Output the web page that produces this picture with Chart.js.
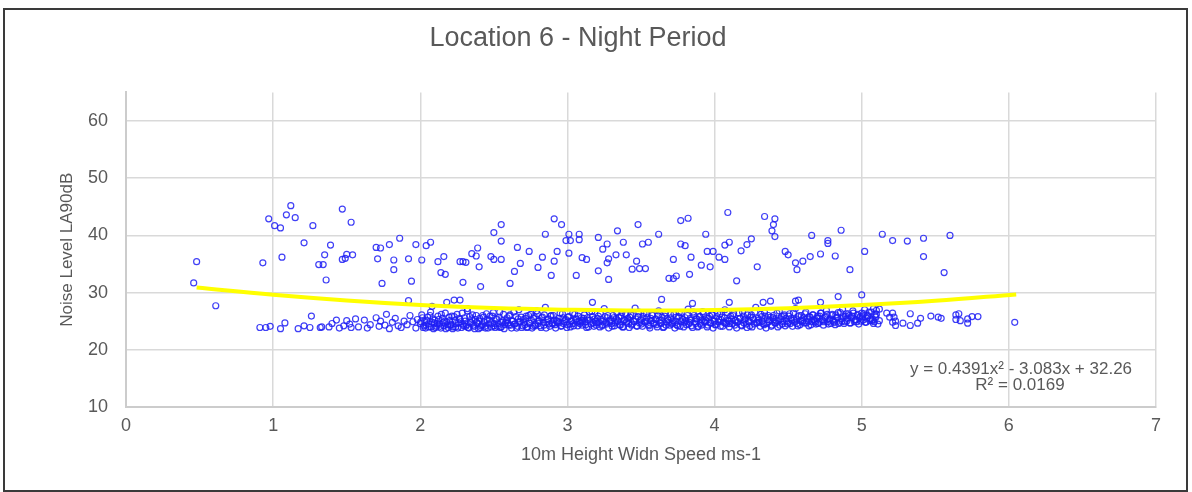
<!DOCTYPE html>
<html>
<head>
<meta charset="utf-8">
<script src="https://cdn.jsdelivr.net/npm/chart.js@4"></script>
<style>
  html, body { margin:0; padding:0; background:#fff; }
  #wrap { position:relative; width:1192px; height:492px; }
  #frame { position:absolute; left:3px; top:8px; width:1181px; height:480px; border:2px solid #3a3a3a; pointer-events:none; }
  canvas { position:absolute; left:0; top:0; }
</style>
</head>
<body>
<div id="wrap">
  <canvas id="chart" width="1192" height="492"></canvas>
  <div id="frame"></div>
</div>
<script>
// tick values
const xTicks = [0,1,2,3,4,5,6,7];
const yTicks = [10,20,30,40,50,60];

// scattered high readings [wind speed, LA90]
const upperPoints = [
  [0.48,35.4],[0.46,31.7],[0.61,27.7],[0.93,35.2],[0.97,42.9],[1.01,41.7],[1.05,41.3],[1.06,36.2],
  [1.09,43.6],[1.12,45.2],[1.15,43.1],[1.21,38.7],[1.27,41.7],[1.31,34.9],[1.34,34.9],[1.35,36.6],
  [1.36,32.2],[1.39,38.3],[1.47,44.6],[1.47,35.8],[1.49,36.0],[1.50,36.7],[1.53,42.3],[1.54,36.6],
  [1.70,37.9],[1.71,35.9],[1.73,37.8],[1.74,31.6],[1.79,38.4],[1.82,34.0],[1.82,35.7],[1.86,39.5],
  [1.92,35.9],[1.92,28.6],[1.94,32.0],[1.97,38.4],[2.01,35.7],[2.04,38.2],[2.07,38.8],[2.08,27.6],
  [2.12,35.4],[2.14,33.5],[2.16,36.3],[2.17,33.2],[2.18,28.3],[2.23,28.7],[2.27,28.7],[2.27,35.4],
  [2.29,35.4],[2.29,31.8],[2.31,35.3],[2.32,27.2],[2.35,36.8],[2.38,36.4],[2.39,37.8],[2.40,34.5],
  [2.41,31.05],[2.48,36.3],[2.50,40.5],[2.50,35.8],[2.55,41.9],[2.55,39.0],[2.55,35.8],[2.61,31.6],
  [2.64,33.7],[2.66,37.9],[2.68,35.1],[2.74,37.2],[2.80,34.4],[2.83,36.2],[2.85,40.2],[2.89,33.0],
  [2.91,42.9],[2.91,35.5],[2.93,37.2],[2.96,41.9],[2.99,39.1],[3.01,36.9],[3.01,40.2],[3.02,39.1],
  [3.06,33.0],[3.08,40.2],[3.08,39.25],[3.10,36.1],[3.13,35.8],[3.17,28.3],[3.21,39.65],[3.21,33.8],
  [3.24,37.6],[3.27,35.2],[3.27,38.5],[3.28,35.9],[3.28,32.3],[3.33,36.6],[3.34,40.8],[3.38,38.8],
  [3.40,36.6],[3.44,34.1],[3.47,35.5],[3.48,41.9],[3.49,34.2],[3.51,38.5],[3.53,34.2],[3.55,38.8],
  [3.62,40.2],[3.64,28.8],[3.69,32.5],[3.72,35.8],[3.72,32.45],[3.74,32.9],[3.77,42.6],[3.77,38.5],
  [3.80,38.2],[3.82,43.0],[3.83,33.2],[3.84,36.2],[3.85,28.1],[3.91,34.8],[3.94,40.2],[3.95,37.2],
  [3.97,34.5],[3.99,37.2],[4.03,36.2],[4.07,35.8],[4.07,38.3],[4.09,44.0],[4.10,38.8],[4.10,28.3],
  [4.15,32.05],[4.18,37.3],[4.22,38.4],[4.25,39.4],[4.29,34.5],[4.33,28.3],[4.34,43.3],[4.38,28.5],
  [4.39,40.8],[4.40,41.9],[4.41,39.8],[4.41,42.9],[4.48,37.2],[4.50,36.6],[4.55,28.5],[4.55,35.2],
  [4.56,34.0],[4.57,28.7],[4.60,35.5],[4.65,36.3],[4.66,40.0],[4.72,36.75],[4.72,28.3],[4.77,38.6],
  [4.77,39.1],[4.82,36.4],[4.84,29.3],[4.86,40.9],[4.92,34.0],[5.00,29.6],[5.02,37.2],[5.14,40.2],
  [5.21,39.1],[5.31,39.0],[5.42,39.5],[5.42,36.3],[5.56,33.5],[5.60,40.0]
];

// low readings, sparse left part
const lowLeftPoints = [
  [0.91,23.9],[0.95,23.9],[0.98,24.1],[1.05,23.7],[1.08,24.7],[1.17,23.7],[1.21,24.2],[1.25,23.9],
  [1.26,25.9],[1.32,23.9],[1.33,24.0],[1.38,24.0],[1.40,24.6],[1.43,25.2],[1.45,23.8],[1.48,24.2],
  [1.50,25.1],[1.52,24.5],[1.53,23.9],[1.56,25.4],[1.58,24.0],[1.62,25.2],[1.64,23.8],[1.66,24.4],
  [1.70,25.6],[1.72,24.1],[1.73,25.0],[1.76,24.3],[1.77,26.2],[1.79,23.7],[1.81,24.8],[1.83,25.5],
  [1.85,24.2],[1.87,23.9],[1.89,25.0],[1.91,24.4],[1.93,26.0],[1.95,24.9]
];

// low readings, dense band (first pass)
const bandPoints = [
  [1.97,23.8],[1.98,25.3],[2.00,24.6],[2.01,26.1],[2.02,23.9],[2.03,25.0],[2.04,24.3],[2.05,25.7],[2.06,24.0],[2.07,26.6],[2.08,24.8],[2.09,23.7],
  [2.10,25.2],[2.11,24.1],[2.12,25.9],[2.13,24.5],[2.14,23.8],[2.15,25.5],[2.16,24.2],[2.17,26.4],[2.18,24.9],[2.19,23.9],
  [2.20,25.1],[2.21,24.4],[2.22,23.7],[2.23,25.8],[2.24,24.0],[2.25,26.2],[2.26,24.7],[2.27,25.3],[2.28,23.9],[2.29,24.5],
  [2.30,25.6],[2.31,24.1],[2.32,26.8],[2.33,23.8],[2.34,24.9],[2.35,25.4],[2.36,24.3],[2.37,23.7],[2.38,26.0],[2.39,24.6],
  [2.40,25.0],[2.41,23.9],[2.42,24.4],[2.43,25.7],[2.44,24.1],[2.45,26.3],[2.46,23.8],[2.47,25.2],[2.48,24.7],[2.49,25.9],
  [2.50,24.2],[2.51,23.9],[2.52,25.4],[2.53,24.6],[2.54,26.6],[2.55,24.0],[2.56,25.1],[2.57,23.7],[2.58,24.8],[2.59,25.6],
  [2.60,24.3],[2.61,26.1],[2.62,23.8],[2.63,25.0],[2.64,24.5],[2.65,25.8],[2.66,24.1],[2.67,27.0],[2.68,24.9],[2.69,23.9],
  [2.70,25.3],[2.71,24.4],[2.72,25.9],[2.73,24.0],[2.74,24.7],[2.75,26.2],[2.76,23.8],[2.77,25.5],[2.78,24.2],[2.79,26.8],
  [2.80,24.6],[2.81,25.1],[2.82,23.9],[2.83,25.7],[2.84,24.3],[2.85,27.4],[2.86,24.8],[2.87,25.4],[2.88,24.1],[2.89,26.0],
  [2.90,24.5],[2.91,25.2],[2.92,23.8],[2.93,25.0],[2.94,24.7],[2.95,26.4],[2.96,24.2],[2.97,25.6],[2.98,24.9],[2.99,25.3],
  [3.00,24.4],[3.01,25.8],[3.02,24.0],[3.03,25.1],[3.04,24.6],[3.05,26.2],[3.06,25.4],[3.07,24.2],[3.08,25.0],[3.09,24.8],[3.095,25.6],
  [3.10,24.3],[3.11,25.5],[3.12,24.9],[3.13,23.9],[3.14,25.2],[3.15,26.6],[3.16,24.5],[3.17,25.8],[3.18,24.1],[3.19,25.0],
  [3.20,24.7],[3.21,25.9],[3.22,24.0],[3.23,25.3],[3.24,24.4],[3.25,27.2],[3.26,24.8],[3.27,25.6],[3.28,23.8],[3.29,25.1],
  [3.30,24.6],[3.31,26.0],[3.32,24.2],[3.33,25.4],[3.34,24.9],[3.35,25.7],[3.36,24.3],[3.37,26.5],[3.38,24.0],[3.39,25.2],
  [3.40,24.8],[3.41,25.5],[3.42,23.9],[3.43,26.1],[3.44,24.5],[3.45,25.0],[3.46,27.3],[3.47,24.2],[3.48,25.8],[3.49,24.7],
  [3.50,25.3],[3.51,24.1],[3.52,26.4],[3.53,24.9],[3.54,25.6],[3.55,24.4],[3.56,23.8],[3.57,25.1],[3.58,26.0],[3.59,24.6],
  [3.60,25.4],[3.61,24.0],[3.62,26.8],[3.63,24.7],[3.64,25.2],[3.65,23.9],[3.66,25.9],[3.67,24.3],[3.68,25.5],[3.69,24.8],
  [3.70,26.2],[3.71,24.5],[3.72,25.0],[3.73,23.8],[3.74,25.7],[3.75,24.2],[3.76,26.5],[3.77,24.9],[3.78,25.3],[3.79,24.0],
  [3.80,25.6],[3.81,24.4],[3.82,27.1],[3.83,24.8],[3.84,25.2],[3.85,23.9],[3.86,26.0],[3.87,24.6],[3.88,25.4],[3.89,24.1],
  [3.90,25.8],[3.91,24.3],[3.92,26.7],[3.93,24.9],[3.94,25.1],[3.95,24.0],[3.96,25.5],[3.97,24.7],[3.98,26.2],[3.99,23.8],
  [4.00,25.0],[4.01,24.4],[4.02,26.4],[4.03,25.3],[4.04,24.1],[4.05,25.7],[4.06,24.8],[4.07,27.0],[4.08,24.5],[4.09,25.2],
  [4.10,24.0],[4.11,25.9],[4.12,24.6],[4.13,26.3],[4.14,25.1],[4.15,23.8],[4.16,24.9],[4.17,25.5],[4.18,24.3],[4.19,26.6],
  [4.20,24.7],[4.21,25.4],[4.22,23.9],[4.23,25.0],[4.24,24.2],[4.25,26.1],[4.26,25.6],[4.27,24.5],[4.28,27.4],[4.29,24.8],
  [4.30,25.2],[4.31,24.1],[4.32,25.8],[4.33,24.6],[4.34,26.5],[4.35,23.8],[4.36,25.3],[4.37,24.9],[4.38,25.7],[4.39,24.3],
  [4.40,26.0],[4.41,24.7],[4.42,25.1],[4.43,24.0],[4.44,26.8],[4.45,25.4],[4.46,24.5],[4.47,25.9],[4.48,24.2],[4.49,25.0],
  [4.50,24.8],[4.51,26.3],[4.52,25.5],[4.53,24.1],[4.54,25.2],[4.55,27.2],[4.56,24.6],[4.57,25.8],[4.58,24.4],[4.59,26.0],
  [4.60,25.1],[4.61,24.7],[4.62,26.6],[4.63,25.4],[4.64,24.2],[4.65,25.7],[4.66,24.9],[4.67,26.1],[4.68,25.0],[4.69,24.5],
  [4.70,25.9],[4.71,24.8],[4.72,26.4],[4.73,25.3],[4.74,24.3],[4.75,25.6],[4.76,26.9],[4.77,24.9],[4.78,25.2],[4.79,24.6],
  [4.80,26.2],[4.81,25.0],[4.82,24.4],[4.83,25.7],[4.84,26.5],[4.85,24.8],[4.86,25.4],[4.87,27.1],[4.88,24.6],[4.89,25.9],
  [4.90,25.1],[4.91,26.3],[4.92,24.7],[4.93,25.6],[4.94,26.8],[4.95,24.9],[4.96,25.3],[4.97,26.0],[4.98,24.5],[4.99,25.8],
  [5.00,26.4],[5.01,25.2],[5.02,27.0],[5.03,24.8],[5.04,25.9],[5.05,26.6],[5.06,25.4],[5.08,24.6],[5.09,26.1]
];

// low readings, dense band (second pass, fills the core)
const bandPoints2 = [
  [2.004,24.9],[2.015,25.6],[2.024,24.2],[2.036,23.8],[2.043,25.1],[2.055,24.5],[2.066,26.0],[2.074,24.0],[2.085,25.4],[2.096,24.7],
  [2.104,23.9],[2.115,24.6],[2.124,25.3],[2.136,24.1],[2.143,26.2],[2.155,24.8],[2.166,25.0],[2.174,23.7],[2.185,24.4],[2.196,25.7],
  [2.204,24.3],[2.215,25.9],[2.224,24.0],[2.236,25.2],[2.243,24.6],[2.255,23.8],[2.266,25.5],[2.274,24.9],[2.285,26.4],[2.296,24.2],
  [2.304,25.0],[2.315,24.4],[2.324,23.9],[2.336,25.8],[2.343,24.7],[2.355,26.1],[2.366,24.1],[2.374,25.3],[2.385,24.8],[2.396,23.7],
  [2.404,25.5],[2.415,24.2],[2.424,26.0],[2.436,24.9],[2.443,23.8],[2.455,25.2],[2.466,24.5],[2.474,25.9],[2.485,24.0],[2.496,26.5],
  [2.504,24.6],[2.515,25.3],[2.524,24.1],[2.536,25.7],[2.543,23.9],[2.555,24.8],[2.566,26.2],[2.574,24.4],[2.585,25.1],[2.596,24.7],
  [2.604,25.9],[2.615,24.3],[2.624,25.0],[2.636,26.6],[2.643,24.5],[2.655,23.8],[2.666,25.4],[2.674,24.9],[2.685,25.7],[2.696,24.2],
  [2.704,24.8],[2.715,25.5],[2.724,23.9],[2.736,26.0],[2.743,24.6],[2.755,25.2],[2.766,24.1],[2.774,25.8],[2.785,24.4],[2.796,26.3],
  [2.804,25.0],[2.815,24.2],[2.824,25.6],[2.836,24.8],[2.843,26.1],[2.855,23.8],[2.866,25.3],[2.874,24.5],[2.885,25.9],[2.896,24.7],
  [2.904,26.0],[2.915,24.4],[2.924,25.1],[2.936,24.9],[2.943,25.5],[2.955,24.1],[2.966,26.3],[2.974,24.6],[2.985,25.2],[2.996,23.9],
  [3.004,25.7],[3.015,24.5],[3.024,25.0],[3.036,26.4],[3.043,24.2],[3.055,25.3],[3.066,24.8],[3.074,25.9],[3.085,24.6],[3.096,25.1],
  [3.104,24.9],[3.115,26.1],[3.124,24.4],[3.136,25.6],[3.143,24.0],[3.155,25.2],[3.166,26.7],[3.174,24.7],[3.185,25.4],[3.196,24.3],
  [3.204,25.5],[3.215,24.8],[3.224,26.3],[3.236,24.2],[3.243,25.0],[3.255,25.8],[3.266,24.5],[3.274,26.0],[3.285,24.9],[3.296,25.3],
  [3.304,24.1],[3.315,25.6],[3.324,24.7],[3.336,26.5],[3.343,25.1],[3.355,24.4],[3.366,25.9],[3.374,24.0],[3.385,25.3],[3.396,26.2],
  [3.404,25.0],[3.415,24.6],[3.424,25.7],[3.436,24.3],[3.443,26.0],[3.455,24.9],[3.466,25.4],[3.474,24.1],[3.485,26.6],[3.496,25.2],
  [3.504,24.5],[3.515,25.8],[3.524,24.8],[3.536,26.3],[3.543,25.0],[3.555,24.2],[3.566,25.5],[3.574,26.1],[3.585,24.7],[3.596,25.3],
  [3.604,24.4],[3.615,26.0],[3.624,25.1],[3.636,24.6],[3.643,25.7],[3.655,24.0],[3.666,26.4],[3.674,24.9],[3.685,25.2],[3.696,24.3],
  [3.704,25.6],[3.715,24.7],[3.724,26.2],[3.736,25.0],[3.743,24.4],[3.755,25.8],[3.766,24.1],[3.774,26.5],[3.785,25.3],[3.796,24.8],
  [3.804,25.1],[3.815,26.0],[3.824,24.5],[3.836,25.5],[3.843,24.2],[3.855,26.6],[3.866,24.9],[3.874,25.4],[3.885,24.0],[3.896,25.8],
  [3.904,24.6],[3.915,25.2],[3.924,26.3],[3.936,24.8],[3.943,25.6],[3.955,24.3],[3.966,25.9],[3.974,24.7],[3.985,26.1],[3.996,25.0],
  [4.004,24.4],[4.015,25.8],[4.024,24.9],[4.036,26.2],[4.043,25.3],[4.055,24.1],[4.066,25.6],[4.074,24.7],[4.085,26.5],[4.096,25.0],
  [4.104,24.6],[4.115,25.4],[4.124,26.0],[4.136,24.3],[4.143,25.1],[4.155,24.8],[4.166,26.4],[4.174,25.5],[4.185,24.2],[4.196,25.9],
  [4.204,25.2],[4.215,24.5],[4.224,26.1],[4.236,24.9],[4.243,25.7],[4.255,24.0],[4.266,25.3],[4.274,26.6],[4.285,24.7],[4.296,25.5],
  [4.304,24.8],[4.315,26.2],[4.324,25.0],[4.336,24.4],[4.343,25.9],[4.355,24.6],[4.366,26.0],[4.374,25.2],[4.385,24.1],[4.396,25.6],
  [4.404,25.3],[4.415,24.7],[4.424,26.4],[4.436,25.1],[4.443,24.3],[4.455,25.8],[4.466,24.9],[4.474,26.1],[4.485,25.5],[4.496,24.5],
  [4.504,25.9],[4.515,24.6],[4.524,25.2],[4.536,26.5],[4.543,24.8],[4.555,25.4],[4.566,24.2],[4.574,26.0],[4.585,25.1],[4.596,24.9],
  [4.604,25.6],[4.615,26.3],[4.624,24.7],[4.636,25.0],[4.643,25.8],[4.655,24.4],[4.666,26.1],[4.674,25.3],[4.685,24.8],[4.696,25.5],
  [4.704,24.6],[4.715,25.9],[4.724,26.4],[4.736,25.1],[4.743,24.9],[4.755,25.7],[4.766,26.2],[4.774,24.5],[4.785,25.4],[4.796,26.0],
  [4.804,25.2],[4.815,24.8],[4.824,26.1],[4.836,25.6],[4.843,24.6],[4.855,26.5],[4.866,25.0],[4.874,25.8],[4.885,24.9],[4.896,26.3],
  [4.904,25.5],[4.915,26.0],[4.924,24.7],[4.936,25.9],[4.943,26.4],[4.955,25.2],[4.966,24.9],[4.974,26.2],[4.985,25.6],[4.996,25.0],
  [5.004,25.8],[5.015,26.3],[5.024,24.8],[5.036,25.5],[5.043,26.0],[5.055,25.1],[5.066,26.6],[5.074,25.3],[5.085,24.9],[5.096,25.7]
];

// low readings, thinning right tail
const tailPoints = [
  [5.07,25.1],[5.08,27.2],[5.10,26.9],[5.10,26.2],[5.11,24.5],[5.12,25.1],[5.12,27.1],[5.17,26.4],
  [5.19,25.7],[5.21,26.4],[5.21,24.8],[5.22,25.7],[5.23,24.25],[5.23,25.0],[5.28,24.65],[5.33,26.3],
  [5.33,24.25],[5.38,24.65],[5.40,25.5],[5.47,25.9],[5.52,25.7],[5.54,25.5],[5.64,26.1],[5.64,25.3],
  [5.66,26.3],[5.67,25.1],[5.72,25.4],[5.72,24.65],[5.75,25.8],[5.79,25.8],[6.04,24.8]
];

// poly trendline
const trendX = [0.48,1.0,1.5,2.0,2.5,3.0,3.5,4.0,4.5,5.0,5.5,6.05];
const trendY = [30.88,29.62,28.63,27.85,27.30,27.00,26.85,26.96,27.28,27.82,28.58,29.68];

const eqLine1 = "y = 0.4391x\u00b2 - 3.083x + 32.26";
const eqLine2 = "R\u00b2 = 0.0169";

const FONT = "'Liberation Sans', Arial, sans-serif";
const TXT = "#595959";
const toXY = p => ({x:p[0], y:p[1]});
const scatter = [...upperPoints, ...lowLeftPoints, ...bandPoints, ...bandPoints2, ...tailPoints].map(toXY);
const trend = trendX.map((x,i) => ({x, y:trendY[i]}));

const equationText = {
  id:"equationText",
  afterDraw(chart){
    const ctx = chart.ctx;
    ctx.save();
    ctx.fillStyle = TXT;
    ctx.font = "17px " + FONT;
    ctx.textAlign = "center";
    ctx.textBaseline = "middle";
    ctx.fillText(eqLine1, 1021, 369);
    ctx.fillText(eqLine2, 1020, 385);
    ctx.restore();
  }
};

new Chart(document.getElementById("chart"), {
  type:"scatter",
  data:{
    datasets:[
      {
        type:"line",
        data:trend,
        borderColor:"#ffff00",
        borderWidth:4,
        pointRadius:0,
        tension:0.4,
        fill:false
      },
      {
        data:scatter,
        pointStyle:"circle",
        pointRadius:3,
        borderWidth:1.2,
        borderColor:"rgba(30,30,245,0.85)",
        backgroundColor:"rgba(0,0,0,0)"
      }
    ]
  },
  options:{
    responsive:false,
    animation:false,
    layout:{ padding:{ left:0, right:36, top:0, bottom:0 } },
    plugins:{
      legend:{ display:false },
      tooltip:{ enabled:false },
      title:{
        display:true,
        text:"Location 6 - Night Period",
        color:TXT,
        font:{ family:FONT, size:27, weight:"normal" },
        padding:{ top:22, bottom:38 }
      }
    },
    scales:{
      x:{
        type:"linear",
        min:0, max:7,
        afterBuildTicks: s => { s.ticks = xTicks.map(v => ({value:v})); },
        afterFit: s => { s.height = 85; },
        grid:{ color:"#d9d9d9", lineWidth:1.5, drawTicks:false },
        border:{ color:"#cccccc", width:2 },
        ticks:{ color:TXT, font:{ family:FONT, size:18 }, padding:8, maxRotation:0 },
        title:{ display:true, text:"10m Height Widn Speed ms-1", color:TXT,
                font:{ family:FONT, size:18 }, padding:{ top:0, bottom:26 } }
      },
      y:{
        min:10, max:65,
        afterBuildTicks: s => { s.ticks = yTicks.map(v => ({value:v})); },
        afterFit: s => { s.width = 126; },
        grid:{ color:"#d9d9d9", lineWidth:1.5, drawTicks:false },
        border:{ color:"#cccccc", width:2 },
        ticks:{ color:TXT, font:{ family:FONT, size:18 }, padding:18 },
        title:{ display:true, text:"Noise Level LA90dB", color:TXT,
                font:{ family:FONT, size:17 }, padding:{ top:57, bottom:0 } }
      }
    }
  },
  plugins:[equationText]
});
</script>
</body>
</html>
